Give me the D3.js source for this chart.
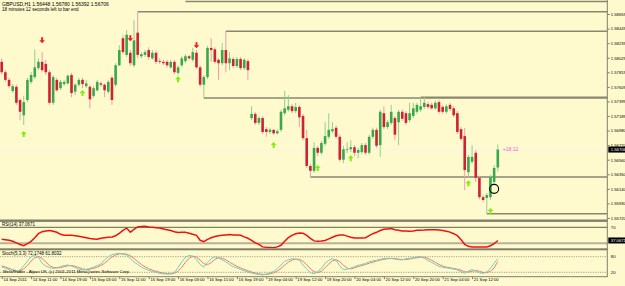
<!DOCTYPE html>
<html>
<head>
<meta charset="utf-8">
<script src="https://cdn.jsdelivr.net/npm/d3@7"></script>
<style>
  body { margin: 0; background: #fffacd; }
  svg { display: block; }
  text { font-family: "Liberation Sans", Arial, sans-serif; }
</style>
</head>
<body>
<div class="chart"></div>
<script>
/* GBPUSD H1 candles */
const opens = [1.5797,1.5782,1.5771,1.5755,1.5761,1.5742,1.5720,1.5742,1.5768,1.5775,
1.5788,1.5797,1.5794,1.5782,1.5738,1.5771,1.5759,1.5765,1.5766,1.5778,
1.5754,1.5764,1.5771,1.5762,1.5761,1.5748,1.5756,1.5766,1.5764,1.5754,
1.5774,1.5764,1.5792,1.5831,1.5807,1.5810,1.5792,1.5839,1.5805,1.5807,
1.5814,1.5802,1.5810,1.5798,1.5797,1.5797,1.5789,1.5797,1.5781,1.5792,
1.5798,1.5805,1.5800,1.5810,1.5789,1.5764,1.5775,1.5817,1.5815,1.5800,
1.5795,1.5814,1.5795,1.5801,1.5791,1.5801,1.5788,1.5798,1.5716,1.5722,
1.5709,1.5716,1.5700,1.5696,1.5699,1.5694,1.5699,1.5723,1.5728,1.5733,
1.5726,1.5732,1.5719,1.5687,1.5647,1.5640,1.5673,1.5666,1.5679,1.5689,
1.5697,1.5702,1.5689,1.5656,1.5670,1.5671,1.5674,1.5666,1.5667,1.5677,
1.5666,1.5689,1.5699,1.5677,1.5723,1.5703,1.5709,1.5716,1.5710,1.5725,
1.5723,1.5713,1.5719,1.5725,1.5728,1.5732,1.5736,1.5735,1.5730,1.5739,
1.5732,1.5725,1.5735,1.5730,1.5723,1.5700,1.5690,1.5638,1.5653,1.5666,
1.5630,1.5602,1.5601,1.5602,1.5624,1.56448];
const highs = [1.5802,1.5785,1.5774,1.5765,1.5764,1.5745,1.5748,1.5774,1.5782,1.5815,
1.5802,1.5811,1.5800,1.5785,1.5778,1.5774,1.5771,1.5771,1.5779,1.5781,
1.5766,1.5774,1.5774,1.5771,1.5764,1.5762,1.5771,1.5769,1.5766,1.5771,
1.5777,1.5795,1.5821,1.5836,1.5843,1.5814,1.5857,1.5869,1.5811,1.5814,
1.5818,1.5814,1.5813,1.5802,1.5800,1.5800,1.5800,1.5800,1.5792,1.5805,
1.5808,1.5807,1.5817,1.5814,1.5792,1.5778,1.5820,1.5831,1.5818,1.5802,
1.5824,1.5841,1.5811,1.5804,1.5804,1.5804,1.5802,1.5801,1.5733,1.5725,
1.5719,1.5719,1.5703,1.5702,1.5700,1.5700,1.5728,1.5755,1.5749,1.5736,
1.5738,1.5735,1.5722,1.5699,1.5650,1.5681,1.5676,1.5683,1.5710,1.5723,
1.5710,1.5705,1.5692,1.5676,1.5681,1.5684,1.5677,1.5673,1.5680,1.5680,
1.5692,1.5702,1.5702,1.5728,1.5733,1.5713,1.5735,1.5719,1.5728,1.5728,
1.5726,1.5738,1.5738,1.5738,1.5746,1.5746,1.5739,1.5738,1.5741,1.5742,
1.5735,1.5736,1.5738,1.5733,1.5726,1.5703,1.5702,1.5663,1.5677,1.5670,
1.5633,1.5605,1.5608,1.5634,1.5648,1.56780];
const lows = [1.5779,1.5768,1.5759,1.5752,1.5735,1.5713,1.5706,1.5739,1.5765,1.5772,
1.5785,1.5782,1.5778,1.5735,1.5735,1.5754,1.5756,1.5762,1.5764,1.5746,
1.5749,1.5761,1.5759,1.5759,1.5730,1.5745,1.5754,1.5761,1.5746,1.5751,
1.5735,1.5761,1.5791,1.5808,1.5804,1.5791,1.5789,1.5802,1.5802,1.5804,
1.5800,1.5800,1.5794,1.5794,1.5792,1.5789,1.5787,1.5779,1.5778,1.5789,
1.5795,1.5800,1.5797,1.5787,1.5761,1.5745,1.5772,1.5797,1.5794,1.5771,
1.5792,1.5782,1.5785,1.5788,1.5788,1.5785,1.5785,1.5771,1.5713,1.5706,
1.5706,1.5693,1.5689,1.5693,1.5692,1.5692,1.5696,1.5720,1.5725,1.5723,
1.5723,1.5703,1.5684,1.5644,1.5631,1.5637,1.5661,1.5663,1.5676,1.5686,
1.5694,1.5686,1.5653,1.5651,1.5666,1.5667,1.5661,1.5658,1.5664,1.5663,
1.5663,1.5686,1.5673,1.5660,1.5700,1.5700,1.5706,1.5684,1.5677,1.5712,
1.5706,1.5710,1.5716,1.5722,1.5725,1.5729,1.5729,1.5728,1.5728,1.5722,
1.5722,1.5722,1.5726,1.5717,1.5693,1.5683,1.5612,1.5630,1.5650,1.5624,
1.5599,1.5595,1.5578,1.5598,1.5620,1.56392];
const closes = [1.5782,1.5771,1.5762,1.5762,1.5738,1.5725,1.5739,1.5771,1.5778,1.5789,
1.5797,1.5785,1.5782,1.5738,1.5775,1.5756,1.5768,1.5768,1.5777,1.5752,
1.5764,1.5771,1.5765,1.5766,1.5743,1.5759,1.5768,1.5764,1.5756,1.5768,
1.5742,1.5792,1.5814,1.5811,1.5836,1.5795,1.5828,1.5807,1.5808,1.5811,
1.5804,1.5810,1.5797,1.5797,1.5795,1.5792,1.5797,1.5782,1.5789,1.5802,
1.5805,1.5802,1.5811,1.5789,1.5764,1.5775,1.5817,1.5814,1.5797,1.5795,
1.5814,1.5795,1.5802,1.5791,1.5801,1.5788,1.5800,1.5785,1.5722,1.5709,
1.5716,1.5696,1.5696,1.5699,1.5694,1.5697,1.5725,1.5730,1.5733,1.5726,
1.5732,1.5717,1.5687,1.5647,1.5640,1.5673,1.5666,1.5680,1.5690,1.5699,
1.5700,1.5689,1.5656,1.5671,1.5671,1.5674,1.5666,1.5670,1.5677,1.5666,
1.5689,1.5699,1.5676,1.5725,1.5703,1.5710,1.5725,1.5692,1.5725,1.5715,
1.5709,1.5723,1.5730,1.5735,1.5733,1.5738,1.5732,1.5730,1.5738,1.5725,
1.5725,1.5733,1.5729,1.5720,1.5696,1.5686,1.5641,1.5660,1.5660,1.5630,
1.5602,1.5598,1.5605,1.5631,1.5644,1.56706];

/* RSI(14) per bar */
const rsi = [40,39,37.5,35,31,27,24,29,35,44,
54,59,61,62,60,57.5,52.5,50,50,50,
49,47.5,46,44,42,41,40,42.5,44,45,
46,49,55,62.5,68,57.5,65,71,72,72.5,
71,70,69,68,66,64,62,59,57,57.5,
57.5,55,52.5,50,37.5,34,40,44,47,49,
50,51,52,51,51,50,46,42.5,37.5,31,
27.5,21,20,19.5,19,21,25,35,44,50,
54,56,55,50,42.5,36,35,35.5,37,41,
45,49,51,51,48,45,43,43,43,44,
49,54,57.5,62,65,66,67,64,62.5,61,
60.5,60,61,62.5,62.5,63,64,64,64,63,
62,60,58,54,49,39,27.5,22.5,21,21,
21,21,21,24,29,37.07];

/* Stochastic(5,3,3) main and signal per bar */
const stochMain = [40,36,30,23,24,29,45,63,80,86,
78,55,44,38,35,37,42,46,48,44,
38,32,29,31,35,40,46,52,68,80,
88,91,93,90,86,72,60,50,40,33,
28,23,20,16,14,13.5,14,20,38,60,
78,85,82,68,50,40,58,72,80,75,
68,60,50,42,37,31,26,21,17,14,
12,10,13,18,23,35,48,62,68,72,
71,66,48,33,18,14,24,35,55,66,
73,66,45,30,32,36,42,47,50,54,
60,64,66,70,73,74,73,71,68,68,
72,74,76,79,80,74,65,58,50,43,
39,37,35,32,29,22,16,25,31,24,
18,16,22,35,55,72.17];
const stochSignal = [45,40,35,30,26,25,33,46,63,76,
81,73,59,46,39,37,38,42,45,46,
43,38,33,31,32,35,40,46,55,67,
79,86,91,91,90,83,73,61,50,41,
34,28,24,20,17,15,14,16,24,39,
59,74,82,78,67,53,49,57,70,76,
74,68,59,51,43,37,31,26,21,17,
14,12,12,14,18,25,35,48,59,67,
70,70,62,49,33,22,19,24,38,52,
65,68,61,47,36,33,37,42,46,50,
55,59,63,67,70,72,73,73,71,69,
69,71,74,76,78,78,73,66,58,50,
44,40,37,35,32,28,22,21,24,27,
24,19,19,24,37,61.8];

/* horizontal levels: [start bar, price] */
const levels = [[50, 1.5884], [37, 1.5869], [61, 1.5841], [55, 1.5745], [114, 1.5746], [84, 1.5631], [132, 1.5578]];
/* signal arrows: [bar, price] */
const upArrows = [[6, 1.5693], [22, 1.5752], [48, 1.5772], [74, 1.5677], [86, 1.5644], [95, 1.5658], [127, 1.5622], [133, 1.5582]];
const downArrows = [[11, 1.5828], [35, 1.5831], [53, 1.5821]];

/* axis ticks */
const priceTicks = [1.58659,1.58449,1.58239,1.58029,1.57819,1.57609,1.57399,1.57189,1.56980,1.56770,1.56560,1.56350,1.56140,1.55930,1.55720];
const timeLabels = ["14 Sep 2011","14 Sep 11:00","14 Sep 19:00","15 Sep 03:00","15 Sep 11:00","15 Sep 19:00",
  "16 Sep 03:00","16 Sep 11:00","16 Sep 19:00","19 Sep 04:00","19 Sep 12:00","19 Sep 20:00",
  "20 Sep 04:00","20 Sep 12:00","20 Sep 20:00","21 Sep 04:00","21 Sep 12:00"];
const timeTickBars = timeLabels.map((d, i) => i * 8);

const width = 625;
const height = 286;
const right = 607.3;
const n = closes.length;
const gridColor = "#7f7f6b";

const svg = d3.select(".chart").append("svg")
  .attr("width", width)
  .attr("height", height);

svg.append("rect").attr("width", width).attr("height", height).attr("fill", "#fffacd");

/* scales */
const x = d3.scaleLinear().domain([0, n - 1]).range([1.7, 497.8]);
const y = d3.scaleLinear().domain([1.55720, 1.58659]).range([218, 14]);
const yRsi = d3.scaleLinear().domain([30, 70]).range([243.3, 227.3]);
const ySto = d3.scaleLinear().domain([0, 100]).range([277.5, 251.5]);

/* clip paths for the three panes */
const defs = svg.append("defs");
[["clipMain", 0, 219.5], ["clipRsi", 222, 248.3], ["clipSto", 250.3, 276.5]].forEach(([id, y0, y1]) => {
  defs.append("clipPath").attr("id", id)
    .append("rect").attr("x", 0).attr("y", y0).attr("width", right).attr("height", y1 - y0);
});

const main = svg.append("g").attr("clip-path", "url(#clipMain)");

/* bid line */
main.append("line")
  .attr("x1", 0).attr("x2", right)
  .attr("y1", y(closes[n - 1])).attr("y2", y(closes[n - 1]))
  .attr("stroke", "#f7f5e8").attr("stroke-width", 1);

/* support / resistance levels */
main.selectAll("line.level")
  .data(levels)
  .join("line")
  .attr("class", "level")
  .attr("x1", d => x(d[0])).attr("x2", right)
  .attr("y1", d => y(d[1])).attr("y2", d => y(d[1]))
  .attr("stroke", "#878770").attr("stroke-width", 1.5);

/* candles */
const up = i => closes[i] >= opens[i];
const candles = main.append("g").selectAll("g")
  .data(d3.range(n))
  .join("g");

candles.append("line")
  .attr("x1", i => x(i)).attr("x2", i => x(i))
  .attr("y1", i => y(highs[i])).attr("y2", i => y(lows[i]))
  .attr("stroke", i => up(i) ? "#8fcf94" : "#e6a2a2")
  .attr("stroke-width", 1);

candles.append("rect")
  .attr("x", i => x(i) - 1.3)
  .attr("width", 2.6)
  .attr("y", i => y(Math.max(opens[i], closes[i])))
  .attr("height", i => Math.max(0.8, Math.abs(y(opens[i]) - y(closes[i]))))
  .attr("fill", i => up(i) ? "#38a84c" : "#cc2233");

/* arrows */
function arrowPath(cx, cy, dir) {
  // dir = -1 up arrow, 1 down arrow
  const h = 3 * dir;
  return `M${cx - 2.8},${cy} L${cx},${cy + h} L${cx + 2.8},${cy} L${cx + 1},${cy} L${cx + 1},${cy - h}`
    + ` L${cx - 1},${cy - h} L${cx - 1},${cy} Z`;
}
main.selectAll("path.up")
  .data(upArrows)
  .join("path")
  .attr("class", "up")
  .attr("d", d => arrowPath(x(d[0]), y(d[1]), -1))
  .attr("fill", "#7cf000");
main.selectAll("path.down")
  .data(downArrows)
  .join("path")
  .attr("class", "down")
  .attr("d", d => arrowPath(x(d[0]), y(d[1]), 1))
  .attr("fill", "#ff1a1a");

/* marked bar */
main.append("circle")
  .attr("cx", x(134)).attr("cy", y(1.5614)).attr("r", 4.5)
  .attr("fill", "none").attr("stroke", "#000").attr("stroke-width", 1.1);

/* time left to bar end, next to the last bar */
main.append("text")
  .attr("x", x(n - 1) + 5).attr("y", y(closes[n - 1]) + 1.7)
  .attr("font-size", 5).attr("fill", "#f05ad8")
  .text("+18:12");

/* header */
svg.append("text").attr("x", 2).attr("y", 5.5).attr("font-size", 5).attr("fill", "#000")
  .text("GBPUSD,H1  1.56448 1.56780 1.56392 1.56706");
svg.append("text").attr("x", 2).attr("y", 10.5).attr("font-size", 4.6).attr("fill", "#000")
  .text("18 minutes 12 seconds left to bar end");

/* pane separators */
svg.append("rect").attr("x", 0).attr("y", 219.5).attr("width", right).attr("height", 2.4).attr("fill", gridColor);
svg.append("rect").attr("x", 0).attr("y", 248.3).attr("width", right).attr("height", 2).attr("fill", gridColor);

/* RSI pane */
svg.append("line").attr("x1", 0).attr("x2", right)
  .attr("y1", yRsi(70)).attr("y2", yRsi(70))
  .attr("stroke", gridColor).attr("stroke-width", 1.2);
svg.append("line").attr("x1", 0).attr("x2", right)
  .attr("y1", yRsi(30)).attr("y2", yRsi(30))
  .attr("stroke", "#b4b29c").attr("stroke-width", 2);

svg.append("path")
  .attr("clip-path", "url(#clipRsi)")
  .datum(rsi)
  .attr("d", d3.line().x((d, i) => x(i)).y(d => yRsi(d)))
  .attr("fill", "none").attr("stroke", "#ee1111").attr("stroke-width", 1.5);

svg.append("text").attr("x", 2).attr("y", 226.3).attr("font-size", 4.5).attr("fill", "#000")
  .text("RSI(14) 37.0671");

/* Stochastic pane */
[80, 20].forEach(v => {
  svg.append("line").attr("x1", 0).attr("x2", right)
    .attr("y1", ySto(v)).attr("y2", ySto(v))
    .attr("stroke", "#8b8b74").attr("stroke-width", 0.8).attr("stroke-dasharray", "1.2,1.2");
});

const stoLine = d3.line().x((d, i) => x(i)).y(d => ySto(d));
svg.append("path").attr("clip-path", "url(#clipSto)")
  .datum(stochSignal)
  .attr("d", stoLine)
  .attr("fill", "none").attr("stroke", "#f27a6c").attr("stroke-width", 1);
svg.append("path").attr("clip-path", "url(#clipSto)")
  .datum(stochMain)
  .attr("d", stoLine)
  .attr("fill", "none").attr("stroke", "#6fd0c0").attr("stroke-width", 1);

svg.append("text").attr("x", 2).attr("y", 255.3).attr("font-size", 4.5).attr("fill", "#000")
  .text("Stoch(5,3,3) 72.1748 61.8032");
svg.append("text").attr("x", 3).attr("y", 272.5).attr("font-size", 4.3).attr("fill", "#000")
  .text("MetaTrader - Alpari UK, (c) 2001-2011 MetaQuotes Software Corp.");

/* price axis */
svg.append("line").attr("x1", right).attr("x2", right).attr("y1", 0).attr("y2", 277)
  .attr("stroke", gridColor).attr("stroke-width", 1);

const yAxis = svg.append("g")
  .attr("transform", `translate(${right},0)`)
  .call(d3.axisRight(y).tickValues(priceTicks).tickSize(2.5).tickPadding(1).tickFormat(d3.format(".5f")));
yAxis.select(".domain").remove();
yAxis.selectAll("line").attr("stroke", gridColor);
yAxis.selectAll("text").attr("font-size", 4.2).attr("fill", "#000").attr("font-family", "Liberation Sans, Arial, sans-serif");

/* current price tag */
const yc = y(closes[n - 1]);
svg.append("rect").attr("x", right + 1).attr("y", yc - 3).attr("width", 20).attr("height", 6).attr("fill", "#000");
svg.append("text").attr("x", right + 3.5).attr("y", yc + 1.6).attr("font-size", 4.2).attr("fill", "#fff")
  .text(d3.format(".5f")(closes[n - 1]));

/* indicator scale labels */
svg.append("text").attr("x", right + 3.5).attr("y", yRsi(70) + 1.5).attr("font-size", 4.2).attr("fill", "#000").text("70");
svg.append("rect").attr("x", right + 1).attr("y", yRsi(rsi[n - 1]) - 3).attr("width", 20).attr("height", 6).attr("fill", "#000");
svg.append("text").attr("x", right + 3.5).attr("y", yRsi(rsi[n - 1]) + 1.6).attr("font-size", 4.2).attr("fill", "#fff").text("37.0671");
[80, 20].forEach(v => {
  svg.append("text").attr("x", right + 3.5).attr("y", ySto(v) + 1.5).attr("font-size", 4.2).attr("fill", "#000").text(v);
});

/* time axis */
svg.append("line").attr("x1", 0).attr("x2", right).attr("y1", 276.7).attr("y2", 276.7)
  .attr("stroke", gridColor).attr("stroke-width", 1);
const xAxis = svg.append("g")
  .attr("transform", "translate(0,276.7)")
  .call(d3.axisBottom(x).tickValues(timeTickBars).tickSize(2.5).tickPadding(1.5).tickFormat((d, i) => timeLabels[i]));
xAxis.select(".domain").remove();
xAxis.selectAll("line").attr("stroke", gridColor);
xAxis.selectAll("text")
  .attr("text-anchor", "start").attr("dx", 1.2).attr("dy", 0.3)
  .attr("font-size", 4.2).attr("fill", "#000").attr("font-family", "Liberation Sans, Arial, sans-serif");
</script>
</body>
</html>
